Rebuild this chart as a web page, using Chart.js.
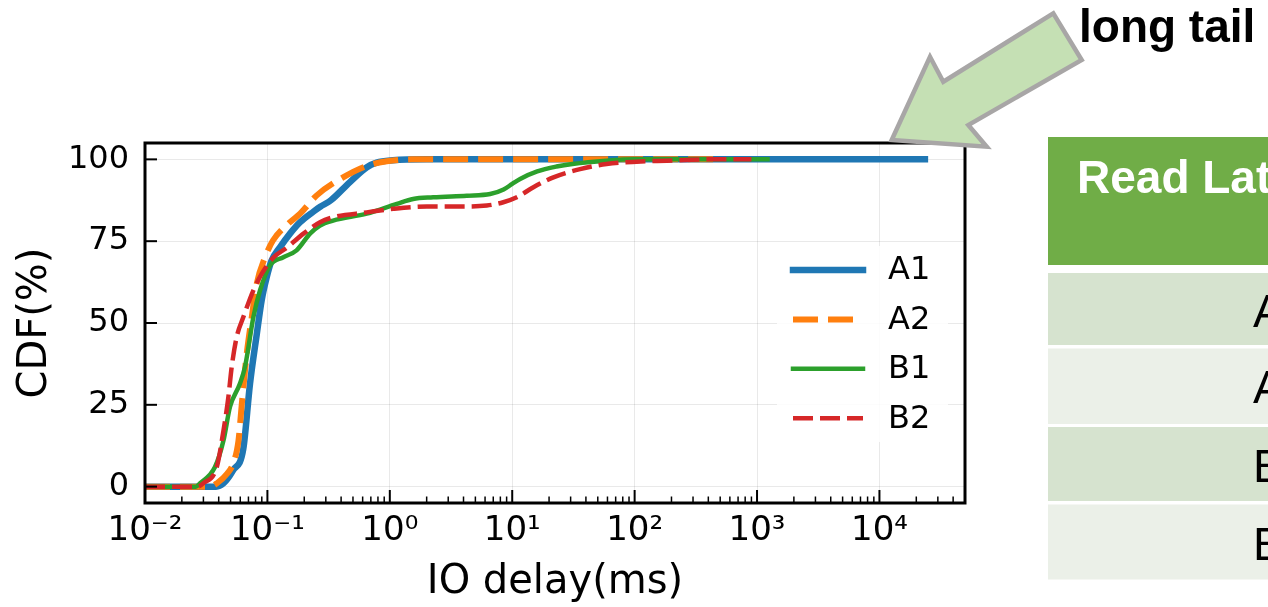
<!DOCTYPE html>
<html>
<head>
<meta charset="utf-8">
<script src="https://cdn.jsdelivr.net/npm/chart.js@4.4.1/dist/chart.umd.min.js"></script>
<style>
html,body{margin:0;padding:0;background:#fff;}
#stage{position:relative;width:1268px;height:607px;overflow:hidden;background:#fff;}
#c{position:absolute;left:0;top:0;}
#ov{position:absolute;left:0;top:0;pointer-events:none;}
</style>
</head>
<body>
<div id="stage">
<canvas id="c" width="1268" height="607"></canvas>
<svg id="ov" width="1268" height="607" xmlns="http://www.w3.org/2000/svg">
  <polygon points="891.7,140 930,56.7 943.3,81.7 1053.3,13.3 1081.7,60 968.3,125 986.7,146.7"
           fill="#c5e0b4" stroke="#a8a6a6" stroke-width="4.5" stroke-linejoin="miter"/>
  <text x="1079" y="42" font-family="Liberation Sans, Arial, sans-serif" font-weight="bold" font-size="46" fill="#000">long tail</text>
  <rect x="1048" y="137" width="240" height="128" fill="#70ad47"/>
  <text x="1077" y="193" font-family="Liberation Sans, Arial, sans-serif" font-weight="bold" font-size="46" fill="#fff">Read Latency</text>
  <rect x="1048" y="273" width="240" height="72" fill="#d6e3cf"/>
  <rect x="1048" y="348.5" width="240" height="75.5" fill="#ebf0e8"/>
  <rect x="1048" y="427" width="240" height="74" fill="#d6e3cf"/>
  <rect x="1048" y="504.5" width="240" height="75" fill="#ebf0e8"/>
  <text x="1253" y="326.7" font-family="Liberation Sans, Arial, sans-serif" font-size="46" fill="#000">A1</text>
  <text x="1253" y="403.3" font-family="Liberation Sans, Arial, sans-serif" font-size="46" fill="#000">A2</text>
  <text x="1253" y="481.7" font-family="Liberation Sans, Arial, sans-serif" font-size="46" fill="#000">B1</text>
  <text x="1253" y="560" font-family="Liberation Sans, Arial, sans-serif" font-size="46" fill="#000">B2</text>
</svg>
</div>
<script>
// ---- data ----
const xTickValues = [0.01, 0.1, 1, 10, 100, 1000, 10000];
const xTickLabels = ['10\u207B\u00B2', '10\u207B\u00B9', '10\u2070', '10\u00B9', '10\u00B2', '10\u00B3', '10\u2074'];
const yTickValues = [0, 25, 50, 75, 100];
const seriesLabels = ['A1', 'A2', 'B1', 'B2'];

const a1X = [0.01, 0.038, 0.0437, 0.0524, 0.0635, 0.0721, 0.0818, 0.0898, 0.0987, 0.108, 0.127, 0.153, 0.185, 0.237, 0.27, 0.33, 0.47, 0.65, 0.78, 1.06, 2, 25000];
const a1Y = [0, 0, 1, 5, 11.5, 31.5, 46.5, 57, 64, 69, 73.2, 77.3, 80.8, 84, 85.5, 87.5, 93, 97.6, 99, 99.7, 100, 100];

const a2X = [0.01, 0.034, 0.0386, 0.047, 0.0524, 0.058, 0.0617, 0.0675, 0.0745, 0.0818, 0.0955, 0.111, 0.153, 0.185, 0.253, 0.415, 0.648, 0.944, 1.5, 500];
const a2Y = [0, 0, 1, 4, 7, 14, 25, 40, 51.8, 62, 70, 75.2, 80.8, 83.4, 89, 94.5, 98, 99.4, 100, 100];

const b1X = [0.01, 0.026, 0.0281, 0.0373, 0.0437, 0.0495, 0.0597, 0.0656, 0.0768, 0.0871, 0.105, 0.135, 0.173, 0.223, 0.269, 0.344, 0.648, 1.14, 1.55, 2.26, 4.25, 6.6, 8.5, 10, 11.6, 16, 23, 31, 59, 100, 1270];
const b1Y = [0, 0, 1, 6, 14, 24.4, 31.5, 36.6, 51.8, 60, 67.6, 70.1, 72.2, 77.3, 79.8, 81.3, 83.4, 86.4, 87.9, 88.4, 88.9, 89.4, 90.8, 92.5, 94, 96.3, 97.8, 98.6, 99.6, 100, 100];

const b2X = [0.01, 0.027, 0.0299, 0.0386, 0.0437, 0.048, 0.0511, 0.0561, 0.0636, 0.0768, 0.0898, 0.112, 0.144, 0.197, 0.269, 0.344, 0.648, 1.07, 2.0, 3.75, 6.2, 8.46, 10.9, 14.9, 21.7, 35.8, 59, 104, 183, 400, 900];
const b2Y = [0, 0, 1, 6, 17, 27.4, 36.6, 45.7, 51.8, 60, 65, 70, 73, 77.3, 80.8, 82.3, 83.8, 84.9, 85.6, 85.6, 85.9, 86.9, 88.4, 91.5, 94.5, 97, 98.6, 99.3, 99.6, 100, 100];

// ---- helpers ----
function pts(xs, ys) { return xs.map((x, i) => ({x: x, y: ys[i]})); }

const legendPlugin = {
  id: 'mplLegend',
  afterDatasetsDraw(chart) {
    const {ctx, chartArea: a} = chart;
    ctx.save();
    ctx.fillStyle = 'rgba(255,255,255,0.85)';
    ctx.fillRect(a.right - 188, a.top + 103, 171, 196);
    ctx.font = '32px "DejaVu Sans"';
    ctx.textBaseline = 'middle';
    chart.data.datasets.forEach((ds, i) => {
      const yy = a.top + 127 + i * 49.4;
      ctx.strokeStyle = ds.borderColor;
      ctx.lineWidth = ds.borderWidth;
      ctx.setLineDash(ds.borderDash);
      ctx.lineCap = ds.borderDash.length ? 'butt' : 'square';
      ctx.beginPath();
      ctx.moveTo(a.right - 172, yy);
      ctx.lineTo(a.right - 102, yy);
      ctx.stroke();
      ctx.fillStyle = '#000';
      ctx.fillText(ds.label, a.right - 77, yy + 1);
    });
    ctx.restore();
  }
};

const framePlugin = {
  id: 'mplFrame',
  afterDraw(chart) {
    const {ctx, chartArea: a, scales} = chart;
    const x = scales.x, y = scales.y;
    ctx.save();
    ctx.strokeStyle = '#000';
    ctx.setLineDash([]);
    ctx.lineCap = 'butt';
    ctx.lineWidth = 1.5;
    for (let d = -2; d <= 4; d++) {
      for (let k = 2; k <= 9; k++) {
        const v = k * Math.pow(10, d);
        if (v >= x.max) continue;
        const px = x.getPixelForValue(v);
        ctx.beginPath(); ctx.moveTo(px, a.bottom); ctx.lineTo(px, a.bottom - 6.5); ctx.stroke();
      }
    }
    ctx.lineWidth = 2;
    xTickValues.forEach(v => {
      const px = x.getPixelForValue(v);
      ctx.beginPath(); ctx.moveTo(px, a.bottom); ctx.lineTo(px, a.bottom - 13); ctx.stroke();
    });
    yTickValues.forEach(v => {
      const py = y.getPixelForValue(v);
      ctx.beginPath(); ctx.moveTo(a.left, py); ctx.lineTo(a.left + 12, py); ctx.stroke();
    });
    ctx.lineWidth = 3;
    ctx.strokeRect(a.left, a.top, a.right - a.left, a.bottom - a.top);
    ctx.restore();
  }
};

const common = {pointRadius: 0, fill: false, cubicInterpolationMode: 'monotone', borderCapStyle: 'butt', borderJoinStyle: 'round'};

new Chart(document.getElementById('c'), {
  type: 'line',
  data: {
    datasets: [
      Object.assign({label: seriesLabels[0], data: pts(a1X, a1Y), borderColor: '#1f77b4', borderWidth: 6.5, borderDash: [], order: 4}, common),
      Object.assign({label: seriesLabels[1], data: pts(a2X, a2Y), borderColor: '#ff7f0e', borderWidth: 6, borderDash: [25, 10], order: 3}, common),
      Object.assign({label: seriesLabels[2], data: pts(b1X, b1Y), borderColor: '#2ca02c', borderWidth: 4.5, borderDash: [], order: 2}, common),
      Object.assign({label: seriesLabels[3], data: pts(b2X, b2Y), borderColor: '#d62728', borderWidth: 4.5, borderDash: [20, 7], order: 1}, common)
    ]
  },
  options: {
    responsive: false,
    animation: false,
    devicePixelRatio: 1,
    layout: {padding: {left: 0, top: 143, right: 303, bottom: 0}},
    plugins: {legend: {display: false}, tooltip: {enabled: false}},
    scales: {
      x: {
        type: 'logarithmic',
        min: 0.01,
        max: 50000,
        afterBuildTicks: s => { s.ticks = xTickValues.map(v => ({value: v, major: true})); },
        afterFit: s => { s.height = 104; },
        ticks: {
          autoSkip: false, maxRotation: 0, minRotation: 0, padding: 8, color: '#000',
          font: {family: 'DejaVu Sans', size: 34},
          callback: (v, i) => xTickLabels[i]
        },
        grid: {color: 'rgba(0,0,0,0.085)', lineWidth: 1, drawTicks: false},
        border: {display: false},
        title: {display: true, text: 'IO delay(ms)', color: '#000', font: {family: 'DejaVu Sans', size: 40}, padding: {top: 0, bottom: 0}}
      },
      y: {
        type: 'linear',
        min: -5,
        max: 105,
        afterBuildTicks: s => { s.ticks = yTickValues.map(v => ({value: v})); },
        afterFit: s => { s.width = 145; },
        ticks: {
          padding: 16, color: '#000',
          font: {family: 'DejaVu Sans', size: 32},
          callback: v => String(v)
        },
        grid: {color: 'rgba(0,0,0,0.085)', lineWidth: 1, drawTicks: false},
        border: {display: false},
        title: {display: true, text: 'CDF(%)', color: '#000', font: {family: 'DejaVu Sans', size: 40}, padding: {top: 12, bottom: 0}}
      }
    }
  },
  plugins: [legendPlugin, framePlugin]
});
</script>
</body>
</html>
